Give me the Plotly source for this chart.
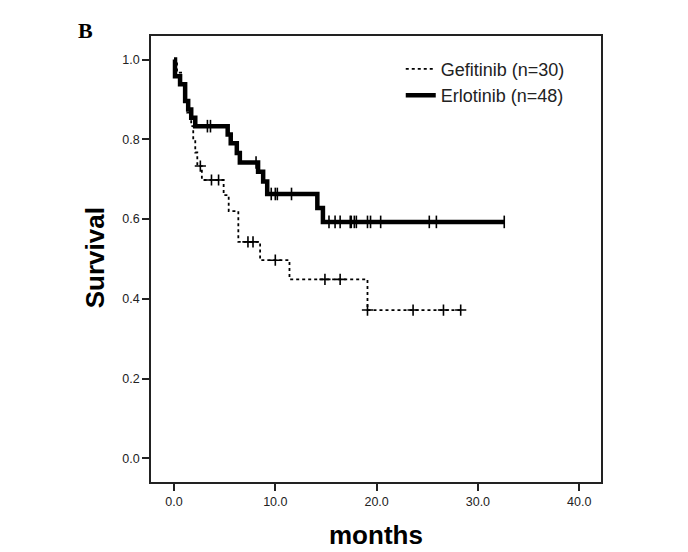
import plotly.graph_objects as go

# ---- data ----
gef_times = [0.0, 0.3, 0.7, 1.0, 1.3, 1.7, 1.9, 2.1, 2.3, 2.75, 4.9, 5.4, 6.35, 8.5, 11.4, 19.1]
gef_surv = [1.0, 0.967, 0.933, 0.900, 0.867, 0.833, 0.800, 0.767, 0.733, 0.698, 0.660, 0.620, 0.543, 0.497, 0.449, 0.372]
gef_end = 28.3
gef_cens_t = [2.6, 3.7, 4.4, 7.3, 7.8, 10.0, 14.9, 16.4, 19.1, 23.6, 26.6, 28.3]
gef_cens_s = [0.733, 0.698, 0.698, 0.543, 0.543, 0.497, 0.449, 0.449, 0.372, 0.372, 0.372, 0.372]

erl_times = [0.0, 0.1, 0.6, 1.1, 1.4, 1.7, 2.1, 5.3, 5.6, 6.2, 6.5, 8.3, 8.8, 9.2, 14.15, 14.7]
erl_surv = [1.0, 0.958, 0.938, 0.896, 0.875, 0.854, 0.833, 0.812, 0.790, 0.766, 0.742, 0.719, 0.694, 0.663, 0.628, 0.593]
erl_end = 32.6
erl_cens_t = [3.3, 3.6, 8.1, 9.6, 10.0, 10.2, 11.6, 15.3, 15.9, 16.4, 17.4, 17.5, 17.8, 18.0,
              19.1, 19.4, 20.4, 25.2, 25.9, 32.6]
erl_cens_s = [0.833, 0.833, 0.742, 0.663, 0.663, 0.663, 0.663] + [0.593] * 13

x_ticks = [0, 10, 20, 30, 40]
x_tick_labels = ["0.0", "10.0", "20.0", "30.0", "40.0"]
y_ticks = [0.0, 0.2, 0.4, 0.6, 0.8, 1.0]
y_tick_labels = ["0.0", "0.2", "0.4", "0.6", "0.8", "1.0"]

series_names = ["Gefitinib (n=30)", "Erlotinib (n=48)"]

fig = go.Figure()

# Gefitinib step curve
fig.add_trace(go.Scatter(
    x=gef_times + [gef_end], y=gef_surv + [gef_surv[-1]],
    mode="lines", line=dict(color="black", width=1.8, dash="3px,3px", shape="hv"),
    name=series_names[0]))
# Erlotinib step curve
fig.add_trace(go.Scatter(
    x=erl_times + [erl_end], y=erl_surv + [erl_surv[-1]],
    mode="lines", line=dict(color="black", width=4.5, shape="hv"),
    name=series_names[1]))
# censor marks
fig.add_trace(go.Scatter(
    x=gef_cens_t, y=gef_cens_s, mode="markers", showlegend=False,
    marker=dict(symbol="cross-thin", size=8, line=dict(color="black", width=1.6))))
fig.add_trace(go.Scatter(
    x=erl_cens_t, y=erl_cens_s, mode="markers", showlegend=False,
    marker=dict(symbol="line-ns", size=9, line=dict(color="black", width=1.6))))

axis_font = dict(family="Liberation Sans, Arial", size=12.5, color="#222")

fig.update_layout(
    width=680, height=544,
    paper_bgcolor="white", plot_bgcolor="white",
    margin=dict(l=143, r=87, t=28, b=70),
    xaxis=dict(range=[-2.27, 42.15], tickvals=x_ticks, ticktext=x_tick_labels,
               ticks="outside", ticklen=7, tickwidth=1.5, tickcolor="#222",
               showline=True, linecolor="#222", linewidth=1.5, mirror=True,
               showgrid=False, zeroline=False, tickfont=axis_font),
    yaxis=dict(range=[-0.059, 1.059], tickvals=y_ticks, ticktext=y_tick_labels,
               ticks="outside", ticklen=7, tickwidth=1.5, tickcolor="#222",
               showline=True, linecolor="#222", linewidth=1.5, mirror=True,
               showgrid=False, zeroline=False, tickfont=axis_font),
    legend=dict(x=0.555, y=0.967, xanchor="left", yanchor="top",
                bgcolor="rgba(0,0,0,0)", tracegroupgap=0, itemwidth=30,
                font=dict(family="Liberation Sans, Arial", size=18, color="#222")),
    showlegend=True,
    annotations=[
        dict(text="<b>Survival</b>", xref="paper", yref="paper", x=-0.124, y=0.502,
             textangle=-90, showarrow=False, xanchor="center", yanchor="middle",
             font=dict(family="Liberation Sans, Arial", size=26, color="black")),
        dict(text="<b>months</b>", xref="paper", yref="paper", x=0.501, y=-0.119,
             showarrow=False, xanchor="center", yanchor="middle",
             font=dict(family="Liberation Sans, Arial", size=26, color="black")),
        dict(text="<b>B</b>", xref="paper", yref="paper", x=-0.1667, y=1.0117,
             showarrow=False, xanchor="left", yanchor="middle",
             font=dict(family="Liberation Serif, Times New Roman", size=22, color="black")),
    ],
)

fig.write_html("out.html")
